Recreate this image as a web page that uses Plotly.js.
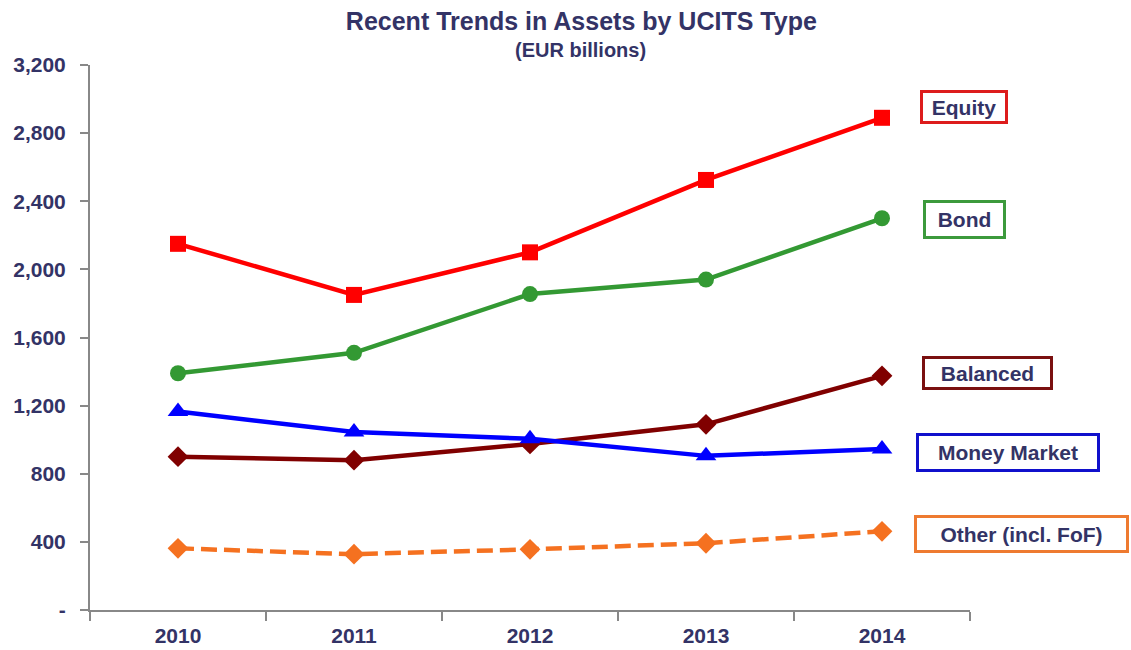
<!DOCTYPE html>
<html>
<head>
<meta charset="utf-8">
<script src="https://cdn.plot.ly/plotly-3.0.1.min.js"></script>
<style>html,body{margin:0;padding:0;background:#fff;}#chart{width:1131px;height:650px;}</style>
</head>
<body>
<div id="chart"></div>
<script>
const years = ['2010', '2011', '2012', '2013', '2014'];
const equity = [2150, 1850, 2100, 2525, 2890];
const bond = [1390, 1510, 1855, 1940, 2300];
const balanced = [900, 880, 975, 1090, 1375];
const moneyMarket = [1165, 1045, 1005, 905, 945];
const other = [362, 328, 356, 392, 462];
const yTickVals = [0, 400, 800, 1200, 1600, 2000, 2400, 2800, 3200];
const yTickText = ['-', '400', '800', '1,200', '1,600', '2,000', '2,400', '2,800', '3,200'];
const seriesNames = ['Equity', 'Bond', 'Balanced', 'Money Market', 'Other (incl. FoF)'];

const navy = '#333366';
const fontFam = 'Arial, "Liberation Sans", sans-serif';

function tr(y, color, symbol, size, dash, name) {
  return {
    x: years, y: y, type: 'scatter', mode: 'lines+markers', name: name,
    line: {color: color, width: 4.5, dash: dash || 'solid'},
    marker: {color: color, symbol: symbol, size: size},
    cliponaxis: false
  };
}

const data = [
  tr(other, '#f57120', 'diamond', 16, '16px,7px', seriesNames[4]),
  tr(balanced, '#800000', 'diamond', 16, null, seriesNames[2]),
  tr(moneyMarket, '#0000ff', 'triangle-up', 18, null, seriesNames[3]),
  tr(bond, '#339933', 'circle', 16, null, seriesNames[1]),
  tr(equity, '#ff0000', 'square', 16, null, seriesNames[0])
];

function box(text, x, y, w, h, color) {
  return {
    text: '<b>' + text + '</b>', xref: 'paper', yref: 'paper', x: x, y: y,
    xanchor: 'center', yanchor: 'middle', showarrow: false,
    width: w - 8, height: h - 8, align: 'center', valign: 'middle',
    font: {family: fontFam, size: 21, color: navy},
    bordercolor: color, borderwidth: 3, borderpad: 1, bgcolor: '#ffffff'
  };
}

const layout = {
  width: 1131, height: 650,
  margin: {l: 90, r: 161, t: 65, b: 40},
  paper_bgcolor: '#ffffff', plot_bgcolor: '#ffffff',
  showlegend: false,
  title: {
    text: '<b>Recent Trends in Assets by UCITS Type</b>',
    font: {family: fontFam, size: 25, color: navy},
    x: 0.514, xref: 'container', xanchor: 'center',
    y: 1 - 21/650, yref: 'container', yanchor: 'middle'
  },
  xaxis: {
    type: 'category', range: [-0.5, 4.5],
    showgrid: false, zeroline: false,
    showline: true, linecolor: '#888888', linewidth: 2,
    ticks: 'outside', tickson: 'boundaries', ticklen: 9, tickcolor: '#888888', tickwidth: 2,
    tickfont: {family: fontFam, size: 21, color: navy, weight: 'bold'},
    ticklabelstandoff: 6,
    fixedrange: true
  },
  yaxis: {
    range: [0, 3200],
    tickvals: yTickVals, ticktext: yTickText,
    showgrid: false, zeroline: false,
    showline: true, linecolor: '#888888', linewidth: 2,
    ticks: 'outside', ticklen: 8, tickcolor: '#888888', tickwidth: 2,
    tickfont: {family: fontFam, size: 21, color: navy, weight: 'bold'},
    ticklabelstandoff: 10,
    fixedrange: true
  },
  annotations: [
    {
      text: '<b>(EUR billions)</b>', xref: 'paper', yref: 'paper',
      x: (580 - 90) / 880, y: (610 - 50) / 545, xanchor: 'center', yanchor: 'middle', showarrow: false,
      font: {family: fontFam, size: 20, color: navy}
    },
    box(seriesNames[0], 0.993, 0.923, 88, 34, '#dd1c1c'),
    box(seriesNames[1], 0.994, 0.7165, 83, 39, '#3c9a3c'),
    box(seriesNames[2], 1.020, 0.435, 131, 34, '#7a1010'),
    box(seriesNames[3], 1.043, 0.289, 184, 39, '#1010cc'),
    box(seriesNames[4], 1.0585, 0.139, 215, 38, '#ee7a30')
  ]
};

Plotly.newPlot('chart', data, layout, {displayModeBar: false, staticPlot: true});
</script>
</body>
</html>
